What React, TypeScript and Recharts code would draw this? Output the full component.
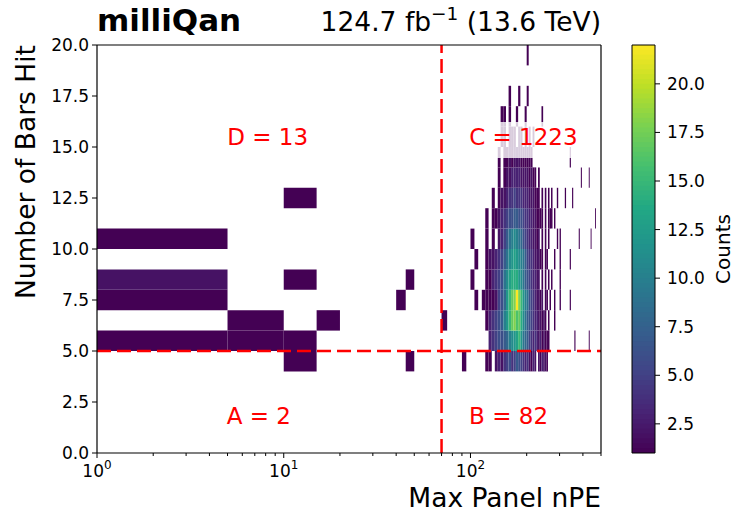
import React from "react";
import { ReferenceArea, ReferenceDot, ReferenceLine, ScatterChart, XAxis, YAxis } from "recharts";

// 2D histogram of Max Panel nPE (bins of 5) vs Number of Bars Hit (bins of 1)
// each row: [nPE bin low edge, count]
const row4 = [[10,1],[45,1],[90,1],[120,1],[125,1],[135,2],[140,3],[145,2],[150,4],[155,5],[160,6],[165,4],[170,5],[175,7],[180,6],[185,5],[190,4],[195,3],[200,4],[205,2],[210,1],[215,3],[220,2],[230,2],[235,1],[240,3],[245,2],[250,2],[255,1]];
const row5 = [[0,1],[5,1],[10,1],[125,3],[130,4],[135,5],[140,6],[145,6],[150,7],[155,8],[160,10],[165,11],[170,12],[175,13],[180,15],[185,12],[190,9],[195,8],[200,7],[205,5],[210,4],[215,3],[220,4],[225,3],[230,2],[235,3],[240,1],[245,2],[250,1],[255,1],[260,1],[360,1],[430,1]];
const row6 = [[5,1],[15,1],[70,1],[120,1],[125,3],[130,4],[135,5],[140,6],[145,7],[150,10],[155,12],[160,15],[165,17],[170,18],[175,16],[180,17],[185,14],[190,11],[195,9],[200,7],[205,6],[210,5],[215,4],[220,3],[225,3],[230,2],[235,2],[240,1],[245,2],[250,1],[260,1],[280,1]];
const row7 = [[0,1],[40,1],[105,1],[115,1],[120,1],[125,1],[130,1],[135,2],[140,5],[145,6],[150,8],[155,12],[160,15],[165,17],[170,18],[175,22],[180,18],[185,15],[190,12],[195,10],[200,9],[205,6],[210,5],[215,4],[220,3],[225,2],[230,2],[235,1],[240,2],[250,1],[255,1],[265,1],[280,1],[300,1],[340,1]];
const row8 = [[0,2],[10,1],[45,1],[100,1],[120,1],[125,1],[130,3],[135,4],[140,5],[145,6],[150,9],[155,11],[160,13],[165,14],[170,14],[175,14],[180,12],[185,11],[190,9],[195,7],[200,6],[205,5],[210,4],[215,3],[220,3],[225,2],[230,2],[240,1],[250,1],[260,1],[270,1],[300,1]];
const row9 = [[105,1],[120,1],[125,2],[130,2],[135,3],[140,4],[145,5],[150,7],[155,9],[160,11],[165,12],[170,13],[175,12],[180,11],[185,10],[190,9],[195,7],[200,5],[205,4],[210,4],[215,3],[220,2],[225,2],[230,2],[235,1],[240,1],[250,1],[255,1],[280,1],[300,1],[340,1]];
const row10 = [[0,1],[100,1],[120,1],[130,1],[140,2],[145,3],[150,5],[155,7],[160,9],[165,10],[170,11],[175,10],[180,9],[185,8],[190,6],[195,5],[200,4],[205,3],[210,3],[215,2],[220,2],[225,1],[230,2],[240,1],[250,1],[260,1],[290,1],[300,1],[380,1],[440,1]];
const row11 = [[120,1],[130,1],[135,1],[140,2],[145,3],[150,4],[155,5],[160,6],[165,6],[170,7],[175,7],[180,6],[185,6],[190,5],[195,4],[200,4],[205,3],[210,3],[215,2],[220,2],[225,1],[230,1],[235,1],[240,1],[250,1],[260,1],[265,1],[270,1],[280,1],[465,1]];
const row12 = [[10,1],[130,1],[140,1],[145,2],[150,2],[155,3],[160,4],[165,4],[170,5],[175,4],[180,4],[185,4],[190,3],[195,3],[200,3],[205,2],[210,2],[215,2],[220,1],[225,1],[230,1],[240,1],[250,1],[260,1],[270,1],[290,1],[320,1],[350,1]];
const row13 = [[140,1],[150,1],[155,2],[160,2],[165,3],[170,3],[175,3],[180,3],[185,2],[190,2],[195,2],[200,2],[205,1],[210,2],[215,1],[220,1],[230,1],[390,1],[430,1]];
const row14 = [[140,1],[150,1],[155,1],[160,2],[165,1],[170,2],[175,2],[180,2],[185,1],[190,1],[195,1],[200,1],[205,1],[210,1],[340,1]];
const row15 = [[145,1],[150,1],[160,1],[165,1],[170,1],[180,2],[185,1],[195,1],[205,1],[215,1]];
const row16 = [[145,1],[150,1],[160,1],[175,1],[195,1],[240,1]];
const row17 = [[160,1],[180,1],[200,1]];
const row19 = [[200,1]];

const rows: [number, number[][]][] = [
  [4, row4], [5, row5], [6, row6], [7, row7], [8, row8], [9, row9], [10, row10],
  [11, row11], [12, row12], [13, row13], [14, row14], [15, row15], [16, row16],
  [17, row17], [19, row19],
];

const xTicks = [1,2,3,4,5,6,7,8,9,10,20,30,40,50,60,70,80,90,100,200,300,400,500];
const yTicks = [0,2.5,5,7.5,10,12.5,15,17.5,20];
const cbTicks = [2.5,5,7.5,10,12.5,15,17.5,20];

const regionLabels = [
  { x: 8.2, y: 15.5, text: "D = 13", box: false },
  { x: 192, y: 15.5, text: "C = 1223", box: true },
  { x: 7.35, y: 1.8, text: "A = 2", box: false },
  { x: 160, y: 1.8, text: "B = 82", box: false },
];

const BIN_W = 5;
const VMIN = 1;
const VMAX = 22;
const FONT = "DejaVu Sans";

const viridisStops = ["#440154","#482475","#414487","#355f8d","#2a788e","#21918c","#22a884","#44bf70","#7ad151","#bddf26","#fde725"];

function hex(c: string) {
  return [1, 3, 5].map((i) => parseInt(c.slice(i, i + 2), 16));
}

function viridis(v: number) {
  const t = Math.min(1, Math.max(0, (v - VMIN) / (VMAX - VMIN))) * (viridisStops.length - 1);
  const i = Math.min(viridisStops.length - 2, Math.floor(t));
  const f = t - i;
  const a = hex(viridisStops[i]);
  const b = hex(viridisStops[i + 1]);
  const m = a.map((av, k) => Math.round(av + (b[k] - av) * f));
  return `rgb(${m[0]},${m[1]},${m[2]})`;
}

const cells = rows.flatMap(([y, list]) =>
  list.map(([x, count]) => ({ x, y, count }))
);

// colour bar slices, each one overlapping the next to avoid seams
const CB_STEP = 0.25;
const cbSlices = Array.from({ length: Math.round((VMAX - VMIN) / CB_STEP) }, (_, i) => VMIN + i * CB_STEP);

const LogTick = (props: any) => {
  const { x, y, payload } = props;
  const e = Math.log10(payload.value);
  const major = Math.abs(e - Math.round(e)) < 1e-9;
  return (
    <g>
      <line x1={x} x2={x} y1={y} y2={y + (major ? 5 : 3)} stroke="#000" strokeWidth={1} />
      {major && (
        <text x={x} y={y + 24} textAnchor="middle" fontSize={17} fontFamily={FONT} fill="#000">
          10<tspan dy={-8} fontSize={12}>{Math.round(e)}</tspan>
        </text>
      )}
    </g>
  );
};

const YTick = (props: any) => {
  const { x, y, payload } = props;
  return (
    <g>
      <line x1={x - 5} x2={x} y1={y} y2={y} stroke="#000" strokeWidth={1} />
      <text x={x - 8} y={y} textAnchor="end" dominantBaseline="central" fontSize={17} fontFamily={FONT} fill="#000">
        {payload.value.toFixed(1)}
      </text>
    </g>
  );
};

const CbTick = (props: any) => {
  const { x, y, payload } = props;
  return (
    <g>
      <line x1={x} x2={x + 5} y1={y} y2={y} stroke="#000" strokeWidth={1} />
      <text x={x + 12} y={y} textAnchor="start" dominantBaseline="central" fontSize={17} fontFamily={FONT} fill="#000">
        {payload.value.toFixed(1)}
      </text>
    </g>
  );
};

const RegionLabel = (props: any) => {
  const { viewBox, text, box } = props;
  const cx = viewBox.x + viewBox.width / 2;
  const cy = viewBox.y + viewBox.height / 2;
  const w = text.length * 13.6 + 14;
  return (
    <g>
      {box && <rect x={cx - w / 2} y={cy - 15} width={w} height={36} fill="#fff" fillOpacity={0.8} />}
      <text x={cx} y={cy} textAnchor="middle" dominantBaseline="central" fontSize={23} fontFamily={FONT} fill="red">
        {text}
      </text>
    </g>
  );
};

const spine = { stroke: "#000", strokeWidth: 1.2, ifOverflow: "visible" as const };

export default function App() {
  return (
    <div style={{ position: "absolute", left: 0, top: 0, width: 735, height: 518, background: "#fff" }}>
      <style>{`.hist rect { shape-rendering: crispEdges; }`}</style>

      <div className="hist" style={{ position: "absolute", left: 0, top: 0 }}>
        <ScatterChart width={735} height={518} margin={{ top: 45, right: 134, bottom: 25, left: 0 }}>
          <XAxis
            type="number"
            dataKey="x"
            scale="log"
            domain={[1, 500]}
            allowDataOverflow
            ticks={xTicks}
            interval={0}
            height={40}
            axisLine={false}
            tickLine={false}
            tickSize={0}
            tickMargin={0}
            tick={<LogTick />}
          />
          <YAxis
            type="number"
            dataKey="y"
            domain={[0, 20]}
            allowDataOverflow
            ticks={yTicks}
            interval={0}
            width={97}
            axisLine={false}
            tickLine={false}
            tickSize={0}
            tickMargin={0}
            tick={<YTick />}
          />
          {cells.map((c, i) => (
            <ReferenceArea
              key={i}
              x1={Math.max(c.x, 1)}
              x2={c.x + BIN_W}
              y1={c.y}
              y2={c.y + 1}
              fill={viridis(c.count)}
              fillOpacity={1}
              stroke="none"
              ifOverflow="visible"
            />
          ))}
          {regionLabels.map((l, i) => (
            <ReferenceDot
              key={`l${i}`}
              x={l.x}
              y={l.y}
              r={0}
              fill="none"
              stroke="none"
              ifOverflow="visible"
              label={<RegionLabel text={l.text} box={l.box} />}
            />
          ))}
          <ReferenceLine x={70} stroke="red" strokeWidth={2.5} strokeDasharray="14 6" ifOverflow="visible" />
          <ReferenceLine y={5} stroke="red" strokeWidth={2.5} strokeDasharray="14 6" ifOverflow="visible" />
          <ReferenceLine x={1} {...spine} />
          <ReferenceLine x={500} {...spine} />
          <ReferenceLine y={0} {...spine} />
          <ReferenceLine y={20} {...spine} />
        </ScatterChart>
      </div>

      <div style={{ position: "absolute", left: 600, top: 0 }}>
        <ScatterChart width={135} height={518} margin={{ top: 45, right: 0, bottom: 65, left: 32 }}>
          <XAxis type="number" dataKey="x" domain={[0, 1]} allowDataOverflow height={0} tick={false} axisLine={false} tickLine={false} />
          <YAxis
            type="number"
            dataKey="y"
            orientation="right"
            domain={[VMIN, VMAX]}
            allowDataOverflow
            ticks={cbTicks}
            interval={0}
            width={80}
            axisLine={false}
            tickLine={false}
            tickSize={0}
            tickMargin={0}
            tick={<CbTick />}
          />
          {cbSlices.map((v, i) => (
            <ReferenceArea
              key={i}
              x1={0}
              x2={1}
              y1={v}
              y2={Math.min(VMAX, v + 2 * CB_STEP)}
              fill={viridis(v + CB_STEP / 2)}
              fillOpacity={1}
              stroke="none"
              ifOverflow="visible"
            />
          ))}
          <ReferenceLine x={0} {...spine} strokeWidth={1} />
          <ReferenceLine x={1} {...spine} strokeWidth={1} />
          <ReferenceLine y={VMIN} {...spine} strokeWidth={1} />
          <ReferenceLine y={VMAX} {...spine} strokeWidth={1} />
        </ScatterChart>
      </div>

      <svg width={735} height={518} style={{ position: "absolute", left: 0, top: 0, pointerEvents: "none" }}>
        <text x={97} y={31} fontSize={31} fontWeight="bold" fontFamily={FONT} fill="#000">milliQan</text>
        <text x={601} y={31} textAnchor="end" fontSize={26.5} fontFamily={FONT} fill="#000">
          124.7 fb<tspan dy={-11} fontSize={18.5}>−1</tspan><tspan dy={11}> (13.6 TeV)</tspan>
        </text>
        <text x={601} y={507} textAnchor="end" fontSize={26.5} fontFamily={FONT} fill="#000">Max Panel nPE</text>
        <text transform="translate(35,45) rotate(-90)" textAnchor="end" fontSize={26.5} fontFamily={FONT} fill="#000">
          Number of Bars Hit
        </text>
        <text transform="translate(730,249) rotate(-90)" textAnchor="middle" fontSize={20} fontFamily={FONT} fill="#000">
          Counts
        </text>
      </svg>
    </div>
  );
}
